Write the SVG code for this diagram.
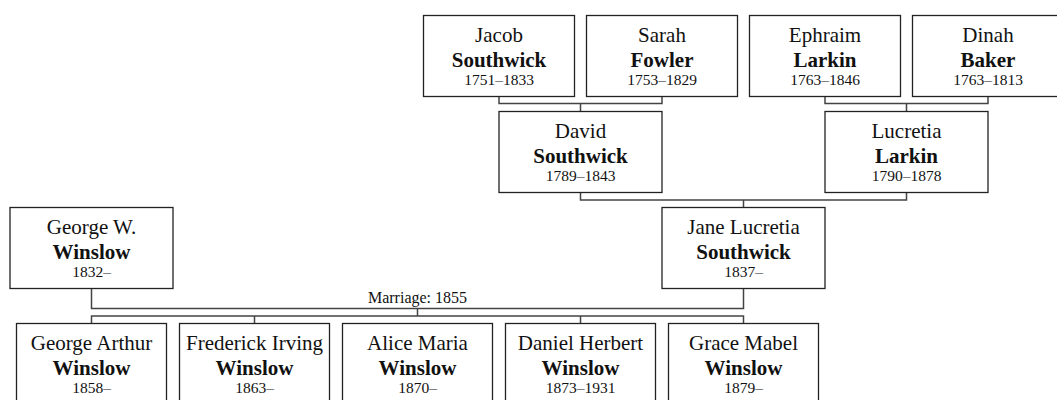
<svg xmlns="http://www.w3.org/2000/svg" width="1057" height="400" viewBox="0 0 1057 400">
<style>
.box{fill:#fff;stroke:#222;stroke-width:1.3}
.ln{fill:none;stroke:#444;stroke-width:1.5}
text{font-family:"Liberation Serif","Times New Roman",serif;fill:#111;text-anchor:middle}
.n{font-size:21px}
.s{font-size:21px;font-weight:bold}
.d{font-size:15.5px}
.m{font-size:16px}
</style>
<rect width="1057" height="400" fill="#fff"/>
<g id="connectors">
<path class="ln" d="M499,96.5V103.5H662V96.5M580.5,103.5V111"/>
<path class="ln" d="M825,96.5V103.5H988V96.5M906.5,103.5V111"/>
<path class="ln" d="M580.5,192.5V200H906.5V192.5M743.5,200V207.5"/>
<path class="ln" d="M91.5,288.5V308.5H743.5V288.5"/>
<path class="ln" d="M417.5,308.5V316M91.5,323.5V316H743.5V323.5M254.5,316V323.5M580.5,316V323.5"/>
<text class="m" x="417.5" y="303">Marriage: 1855</text>
</g>
<g id="jacob"><rect class="box" x="423.5" y="15.5" width="151" height="81"/><text class="n" x="499" y="42">Jacob</text><text class="s" x="499" y="67">Southwick</text><text class="d" x="499" y="85">1751–1833</text></g>
<g id="sarah"><rect class="box" x="586.5" y="15.5" width="151" height="81"/><text class="n" x="662" y="42">Sarah</text><text class="s" x="662" y="67">Fowler</text><text class="d" x="662" y="85">1753–1829</text></g>
<g id="ephraim"><rect class="box" x="749.5" y="15.5" width="151" height="81"/><text class="n" x="825" y="42">Ephraim</text><text class="s" x="825" y="67">Larkin</text><text class="d" x="825" y="85">1763–1846</text></g>
<g id="dinah"><rect class="box" x="912.5" y="15.5" width="151" height="81"/><text class="n" x="988" y="42">Dinah</text><text class="s" x="988" y="67">Baker</text><text class="d" x="988" y="85">1763–1813</text></g>
<g id="david"><rect class="box" x="499" y="111.5" width="163" height="81"/><text class="n" x="580.5" y="138">David</text><text class="s" x="580.5" y="163">Southwick</text><text class="d" x="580.5" y="181">1789–1843</text></g>
<g id="lucretia"><rect class="box" x="825" y="111.5" width="163" height="81"/><text class="n" x="906.5" y="138">Lucretia</text><text class="s" x="906.5" y="163">Larkin</text><text class="d" x="906.5" y="181">1790–1878</text></g>
<g id="georgew"><rect class="box" x="10" y="207.5" width="163" height="81"/><text class="n" x="91.5" y="234">George W.</text><text class="s" x="91.5" y="259">Winslow</text><text class="d" x="91.5" y="277">1832–</text></g>
<g id="jane"><rect class="box" x="662" y="207.5" width="163" height="81"/><text class="n" x="743.5" y="234">Jane Lucretia</text><text class="s" x="743.5" y="259">Southwick</text><text class="d" x="743.5" y="277">1837–</text></g>
<g id="georgearthur"><rect class="box" x="16.5" y="323.5" width="150" height="81"/><text class="n" x="91.5" y="350">George Arthur</text><text class="s" x="91.5" y="375">Winslow</text><text class="d" x="91.5" y="393">1858–</text></g>
<g id="frederick"><rect class="box" x="179.5" y="323.5" width="150" height="81"/><text class="n" x="254.5" y="350">Frederick Irving</text><text class="s" x="254.5" y="375">Winslow</text><text class="d" x="254.5" y="393">1863–</text></g>
<g id="alice"><rect class="box" x="342.5" y="323.5" width="150" height="81"/><text class="n" x="417.5" y="350">Alice Maria</text><text class="s" x="417.5" y="375">Winslow</text><text class="d" x="417.5" y="393">1870–</text></g>
<g id="daniel"><rect class="box" x="505.5" y="323.5" width="150" height="81"/><text class="n" x="580.5" y="350">Daniel Herbert</text><text class="s" x="580.5" y="375">Winslow</text><text class="d" x="580.5" y="393">1873–1931</text></g>
<g id="grace"><rect class="box" x="668.5" y="323.5" width="150" height="81"/><text class="n" x="743.5" y="350">Grace Mabel</text><text class="s" x="743.5" y="375">Winslow</text><text class="d" x="743.5" y="393">1879–</text></g>
</svg>
